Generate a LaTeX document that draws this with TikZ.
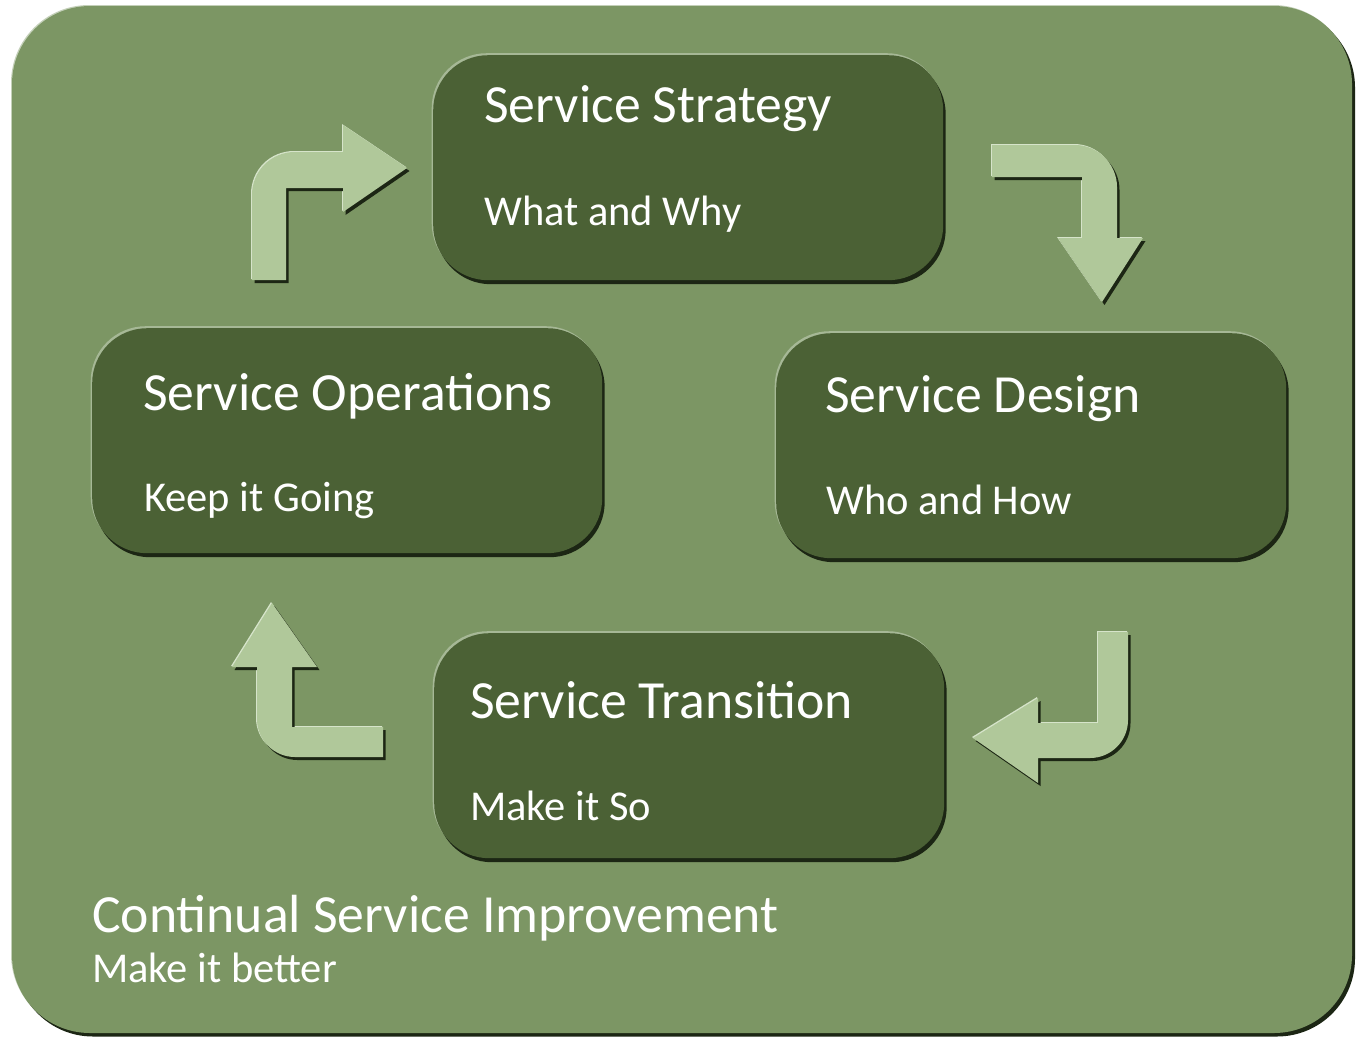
\documentclass[tikz,border=0pt]{standalone}
\usepackage{fontspec}
\setmainfont{Carlito}
\usetikzlibrary{shadows}
\definecolor{panel}{HTML}{7C9664}
\definecolor{stagefill}{HTML}{4B6135}
\definecolor{arrowfill}{HTML}{B0C89A}
\definecolor{rimlight}{HTML}{A6B896}
\definecolor{rimdark}{HTML}{1C2614}
\definecolor{arrowlight}{HTML}{D6E4CA}
\begin{document}
\begin{tikzpicture}[x=1pt,y=-1pt,
  panelbox/.style={fill=panel,
    general shadow={shadow xshift=-1pt, shadow yshift=1pt, fill=panel!45},
    general shadow={shadow xshift=3pt, shadow yshift=-3.5pt, fill=rimdark}},
  stage/.style={rectangle, rounded corners=55pt, fill=stagefill, anchor=north west,
    inner sep=0pt, minimum width=510pt, minimum height=225pt,
    general shadow={shadow xshift=-1.5pt, shadow yshift=2pt, fill=rimlight},
    general shadow={shadow xshift=2.5pt, shadow yshift=-4pt, fill=rimdark}},
  bentarrow/.style={fill=arrowfill,
    general shadow={shadow xshift=-1pt, shadow yshift=1pt, fill=arrowlight},
    general shadow={shadow xshift=2.5pt, shadow yshift=-3pt, fill=rimdark}},
  title/.style={anchor=base west, inner sep=0pt, text=white, font=\fontsize{53.7}{60}\selectfont},
  subtitle/.style={anchor=base west, inner sep=0pt, text=white, font=\fontsize{42.5}{48}\selectfont}]

\useasboundingbox (0,0) rectangle (1359,1039);
\fill[white] (0,0) rectangle (1359,1039);

% outer panel
\path[panelbox, rounded corners=78pt] (12,6) rectangle (1352,1033);

% the four stages
\node[stage] (strategy)   at (433,55)  {};
\node[stage] (operations) at (92,328)  {};
\node[stage] (design)     at (776,333) {};
\node[stage] (transition) at (434,633) {};

\node[title]    (strategyT)   at (484,122) {Service Strategy};
\node[subtitle] (strategyS)   at (484,225) {What and Why};
\node[title]    (operationsT) at (143,410) {Service Operations};
\node[subtitle] (operationsS) at (144,511) {Keep it Going};
\node[title]    (designT)     at (825,412) {Service Design};
\node[subtitle] (designS)     at (826,514) {Who and How};
\node[title]    (transitionT) at (470,718) {Service Transition};
\node[subtitle] (transitionS) at (470,820) {Make it So};

\node[title]    (csiT) at (92,932) {Continual Service Improvement};
\node[subtitle] (csiS) at (92,982) {Make it better};

% bent arrows between the stages
\path[bentarrow] (252,280) -- (252,195) .. controls (252,171) and (271,152) .. (295,152)
  -- (343,152) -- (343,125) -- (407,168) -- (343,212) -- (343,188) -- (286,188)
  -- (286,280) -- cycle;
\path[bentarrow] (992,145) -- (1075,145) .. controls (1098,145) and (1117,164) .. (1117,187)
  -- (1117,238) -- (1143,238) -- (1102,302) -- (1058,238) -- (1082,238) -- (1082,177)
  -- (992,177) -- cycle;
\path[bentarrow] (1098,632) -- (1128,632) -- (1128,720) .. controls (1128,741) and (1111,758) .. (1090,758)
  -- (1038,758) -- (1038,783) -- (973,738) -- (1038,698) -- (1038,723) -- (1098,723)
  -- cycle;
\path[bentarrow] (272,603) -- (317,667) -- (292,667) -- (292,727) -- (383,727) -- (383,757)
  -- (295,757) .. controls (274,757) and (257,740) .. (257,719) -- (257,667)
  -- (232,667) -- cycle;
\end{tikzpicture}
\end{document}
